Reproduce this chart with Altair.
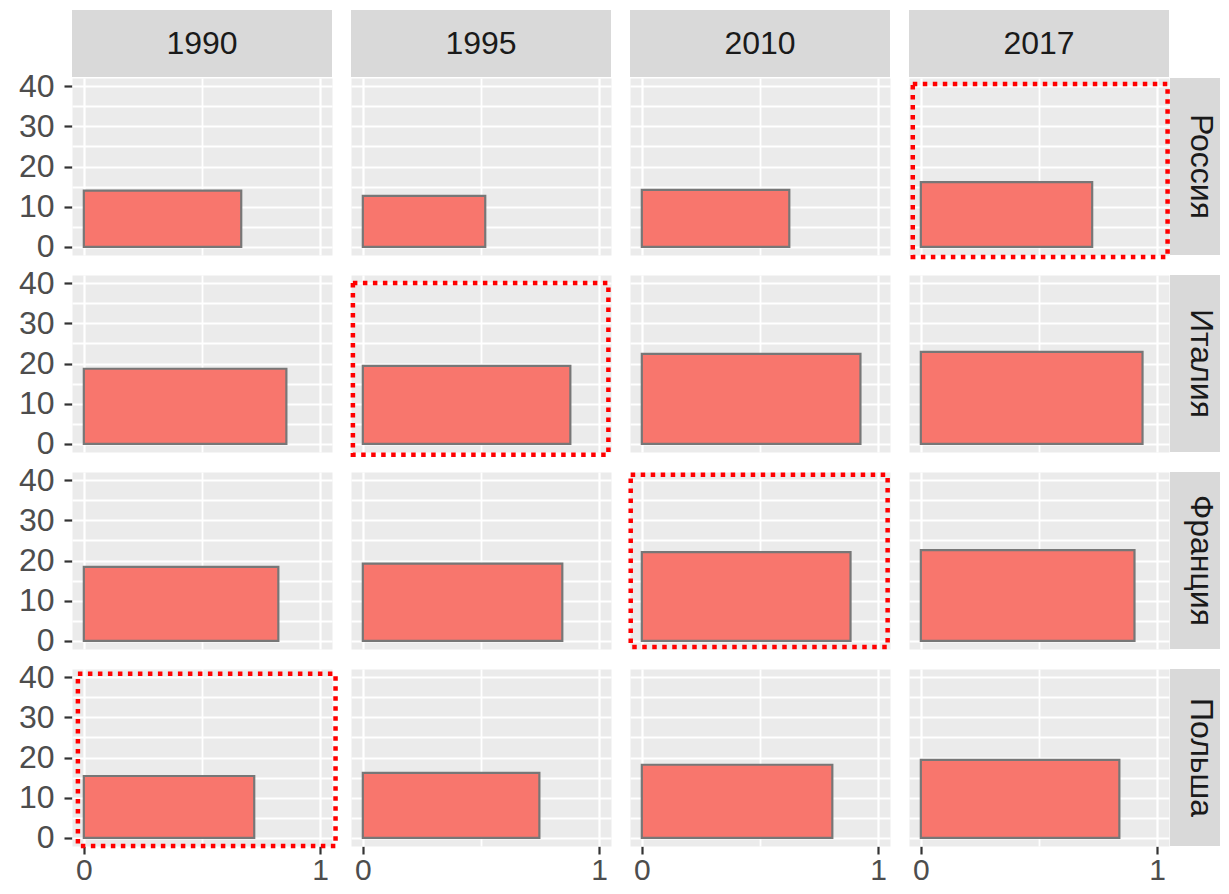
import altair as alt
import pandas as pd

FONT = "Liberation Sans, Arial, sans-serif"

countries = ["Россия", "Италия", "Франция", "Польша"]
years = ["1990", "1995", "2010", "2017"]

# bar heights (y) per country, in year order
russia_values = [14.0, 12.7, 14.2, 16.1]
italy_values = [18.7, 19.4, 22.4, 22.9]
france_values = [18.4, 19.2, 22.1, 22.6]
poland_values = [15.4, 16.2, 18.2, 19.4]

# bar extents on the x axis (0..1) per country, in year order
russia_widths = [0.666, 0.518, 0.624, 0.725]
italy_widths = [0.857, 0.878, 0.925, 0.938]
france_widths = [0.823, 0.844, 0.883, 0.904]
poland_widths = [0.721, 0.747, 0.806, 0.840]

# red dotted highlight frames (one panel per row)
hl_country = ["Россия", "Италия", "Франция", "Польша"]
hl_year = ["2017", "1995", "2010", "1990"]
hl_x1 = [-0.034, -0.042, -0.047, -0.025]
hl_x2 = [1.044, 1.039, 1.040, 1.065]
hl_y1 = [-2.5, -2.7, -1.5, -2.0]
hl_y2 = [40.5, 40.0, 41.3, 40.8]

all_values = [russia_values, italy_values, france_values, poland_values]
all_widths = [russia_widths, italy_widths, france_widths, poland_widths]

rows = []
for ci, c in enumerate(countries):
    for yi, yr in enumerate(years):
        rec = {"country": c, "year": yr, "value": all_values[ci][yi],
               "width": all_widths[ci][yi], "zero": 0.0,
               "hl_x1": None, "hl_x2": None, "hl_y1": None, "hl_y2": None}
        for k in range(len(hl_country)):
            if hl_country[k] == c and hl_year[k] == yr:
                rec.update({"hl_x1": hl_x1[k], "hl_x2": hl_x2[k],
                            "hl_y1": hl_y1[k], "hl_y2": hl_y2[k]})
        rows.append(rec)
df = pd.DataFrame(rows)

W = 260
H = 177
FS = 32

x_scale = alt.Scale(domain=[-0.05, 1.05], nice=False, zero=False)
y_scale = alt.Scale(domain=[-2, 42], nice=False, zero=False)

x_axis = alt.Axis(
    values=[0, 0.5, 1], format="~g",
    labelExpr="datum.value == 0.5 ? '' : datum.label",
    title=None, domain=False,
    tickSize=8, tickWidth=2.2, tickColor="#333333",
    tickOpacity={"condition": {"test": "datum.value == 0.5", "value": 0}, "value": 1},
    gridColor="white",
    gridWidth={"condition": {"test": "datum.value == 0.5", "value": 1.8}, "value": 2.2},
    labelFontSize=30, labelColor="#4D4D4D", labelFont=FONT, labelPadding=1,
)
y_axis = alt.Axis(
    values=[0, 5, 10, 15, 20, 25, 30, 35, 40],
    labelExpr="datum.value % 10 == 0 ? datum.label : ''",
    title=None, domain=False,
    tickSize=8, tickWidth=2.2, tickColor="#333333",
    tickOpacity={"condition": {"test": "datum.value % 10 == 0", "value": 1}, "value": 0},
    gridColor="white",
    gridWidth={"condition": {"test": "datum.value % 10 == 0", "value": 2.2}, "value": 1.8},
    labelFontSize=FS, labelColor="#4D4D4D", labelFont=FONT, labelPadding=10,
)

base = alt.Chart()

bars = base.mark_rect(fill="#F8766D", stroke="#777777", strokeWidth=2.2).encode(
    x=alt.X("width:Q", scale=x_scale, axis=x_axis),
    x2="zero:Q",
    y=alt.Y("value:Q", scale=y_scale, axis=y_axis),
    y2="zero:Q",
)

hl = base.transform_filter("datum.hl_x1 != null").mark_rect(
    fillOpacity=0, stroke="#FF0000", strokeWidth=4.5, strokeDash=[4.5, 5.5], clip=False
).encode(
    x=alt.X("hl_x1:Q", scale=x_scale, axis=x_axis),
    x2="hl_x2:Q",
    y=alt.Y("hl_y1:Q", scale=y_scale, axis=y_axis),
    y2="hl_y2:Q",
)

top_strip = base.transform_filter(alt.datum.country == countries[0]).mark_rect(
    fill="#D9D9D9", clip=False
).encode(x=alt.value(0), x2=alt.value(W), y=alt.value(-68), y2=alt.value(-1))

top_text = base.transform_filter(alt.datum.country == countries[0]).mark_text(
    font=FONT, fontSize=FS, color="#1A1A1A", align="center", baseline="middle", clip=False
).encode(x=alt.value(W / 2), y=alt.value(-34), text="year:N")

right_strip = base.transform_filter(alt.datum.year == years[-1]).mark_rect(
    fill="#D9D9D9", clip=False
).encode(x=alt.value(W + 1), x2=alt.value(W + 69), y=alt.value(0), y2=alt.value(H))

right_text = base.transform_filter(alt.datum.year == years[-1]).mark_text(
    font=FONT, fontSize=FS, color="#1A1A1A", align="center", baseline="middle",
    angle=90, clip=False
).encode(x=alt.value(W + 32), y=alt.value(H / 2), text="country:N")

layered = alt.layer(bars, top_strip, top_text, right_strip, right_text, hl, data=df).properties(
    width=W, height=H
)

chart = layered.facet(
    row=alt.Row("country:N", sort=countries, header=None),
    column=alt.Column("year:N", sort=years, header=None),
    spacing={"row": 20, "column": 19},
).properties(
    bounds="flush",
    padding={"left": 10, "top": 2, "right": -18, "bottom": 0},
).configure_view(fill="#EBEBEB", strokeOpacity=0)

chart.save("out.html", embed_options={"renderer": "svg", "actions": False})
